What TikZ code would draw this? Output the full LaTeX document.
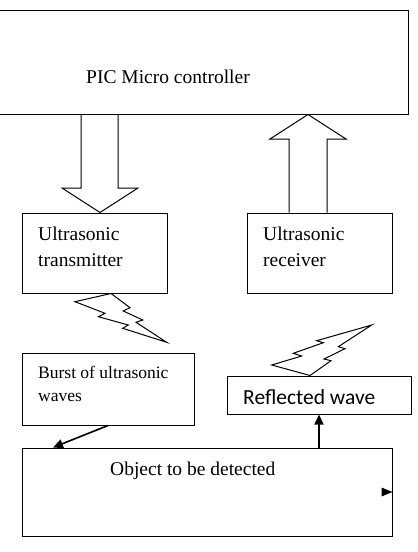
\documentclass[tikz,border=0pt]{standalone}
\usepackage{fontspec}
\setmainfont{Liberation Serif}
\newfontfamily\calibrifont{Carlito}
\usetikzlibrary{arrows.meta}

\begin{document}
\begin{tikzpicture}[x=1pt,y=-1pt,
    box/.style={draw,line width=1pt,inner sep=0pt},
    boxtext/.style={inner sep=0pt,align=left,font=\fontsize{19.5}{26}\selectfont},
    blockarrow/.style={draw,line width=1pt,line join=miter},
    link/.style={draw,line width=1.6pt,-{Triangle[length=10pt,width=9pt]}}
]
\useasboundingbox (0,0) rectangle (418,552);

% boxes
\node[box,minimum width=414pt,minimum height=104pt] (pic) at (201,62) {};
\node[box,minimum width=145pt,minimum height=80pt] (tx) at (94.5,253) {};
\node[box,minimum width=145pt,minimum height=80pt] (rx) at (319.5,253) {};
\node[box,minimum width=172pt,minimum height=72pt] (burst) at (108,389) {};
\node[box,minimum width=184pt,minimum height=38pt] (refl) at (319,395) {};
\node[box,minimum width=370pt,minimum height=88pt] (obj) at (207,492) {};

% texts
\node[boxtext,anchor=base west] (pictext) at (86,83.5) {PIC Micro controller};
\node[boxtext,anchor=north west] (txtext) at (38,226.5) {Ultrasonic\\transmitter};
\node[boxtext,anchor=north west] (rxtext) at (263,226.5) {Ultrasonic\\receiver};
\node[boxtext,anchor=north west,font=\fontsize{17.5}{23}\selectfont] (bursttext) at (38,366) {Burst of ultrasonic\\waves};
\node[inner sep=0pt,anchor=west,font=\calibrifont\fontsize{21.5}{26}\selectfont] (refltext) at (243,397.5) {Reflected wave};
\node[boxtext,anchor=base west] (objtext) at (110,475.3) {Object to be detected};

% block arrows
\draw[blockarrow] (81,0 |- pic.south) -- (81,188) -- (62,188) -- (100,0 |- tx.north)
    -- (138,188) -- (118,188) -- (118,0 |- pic.south);
\draw[blockarrow] (289,0 |- rx.north) -- (289,139) -- (270,139) -- (308,0 |- pic.south)
    -- (346,139) -- (327,139) -- (327,0 |- rx.north);

% bursts
\draw[blockarrow] (111,0 |- tx.south) -- (130,307.7) -- (123.3,311) -- (142.7,320) -- (136,322.3)
    -- (166.7,342.3) -- (122.7,328.3) -- (128.3,325) -- (98.3,316.7) -- (105,313.3) -- (75,301.7) -- cycle;
\draw[blockarrow] (371.7,325) -- (316.7,340.7) -- (323.3,342.7) -- (293.3,353.3) -- (301.7,356)
    -- (271.7,365) -- (310,0 |- refl.north) -- (331,360.7) -- (324,359) -- (345,348.7) -- (338.3,346.7) -- cycle;

% connectors
\draw[link] (108,0 |- burst.south) -- (53,0 |- obj.north);
\draw[link] (refl.south |- obj.north) -- (refl.south);
\fill (obj.east) -- ++(-11,-4.5) -- ++(0,9) -- cycle;
\end{tikzpicture}
\end{document}
